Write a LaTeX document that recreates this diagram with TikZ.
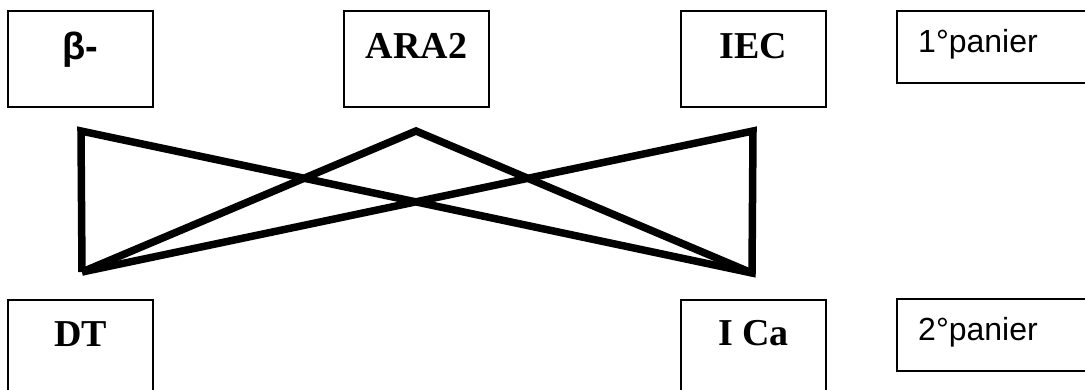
\documentclass[tikz,border=0pt]{standalone}
\usepackage{fontspec}
\setmainfont{Liberation Serif}
\newfontfamily\arialf{Liberation Sans}
\begin{document}
\begin{tikzpicture}[x=1pt,y=-1pt,
  boxline/.style={draw=black,line width=1.4pt},
  thick link/.style={draw=black,line width=7.5pt,line join=miter},
  lbl/.style={anchor=base,inner sep=0pt,font=\fontsize{38}{40}\selectfont\bfseries},
  plbl/.style={anchor=base west,inner sep=0pt,font=\arialf\fontsize{32}{34}\selectfont}]
\useasboundingbox (0,0) rectangle (1085,389);
% top boxes
\draw[boxline] (8,11) rectangle (153,107);
\draw[boxline] (344,11) rectangle (489,107);
\draw[boxline] (681,11) rectangle (826,107);
\draw[boxline] (1090,11) -- (897,11) -- (897,83) -- (1090,83);
% bottom boxes
\draw[boxline] (8,395) -- (8,300) -- (153,300) -- (153,395);
\draw[boxline] (681,395) -- (681,300) -- (826,300) -- (826,395);
\draw[boxline] (1090,299) -- (897,299) -- (897,371) -- (1090,371);
% labels
\node[lbl,font=\arialf\fontsize{38}{40}\selectfont\bfseries] (beta) at (80.5,59) {β-};
\node[lbl] (ara) at (416.5,58) {ARA2};
\node[lbl] (iec) at (753.5,58) {IEC};
\node[plbl] (p1) at (918,52) {1°panier};
\node[lbl] (dt) at (80.5,346) {DT};
\node[lbl] (ica) at (753.5,345) {I Ca};
\node[plbl] (p2) at (918,340) {2°panier};
% connector points
\coordinate (a) at (81,131);
\coordinate (b) at (416,131);
\coordinate (c) at (753,131);
\coordinate (d) at (82,272);
\coordinate (e) at (752,273);
\draw[thick link] (d) -- (a) -- (e) -- (c) -- (d);
\draw[thick link] (d) -- (b) -- (e);
\end{tikzpicture}
\end{document}
